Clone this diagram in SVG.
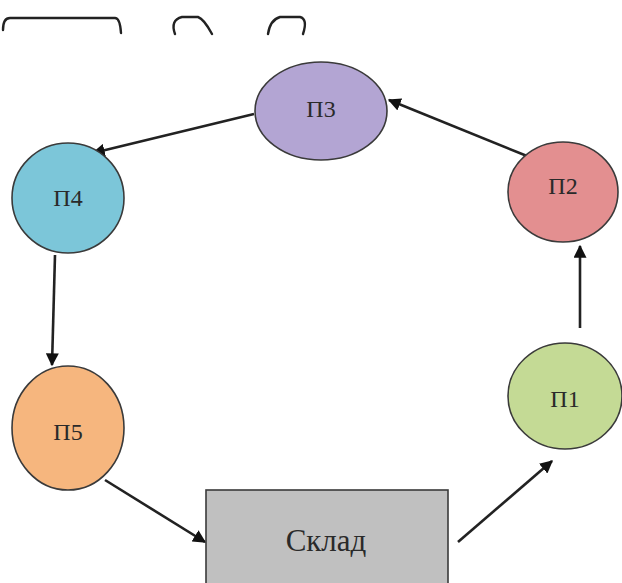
<svg xmlns="http://www.w3.org/2000/svg" width="622" height="583" viewBox="0 0 622 583">
<style>
.node{stroke:#3a3a3a;stroke-width:1.6}
.lbl{font-family:"Liberation Serif","Times New Roman",serif;font-size:24px;fill:#2a2a2a;text-anchor:middle;dominant-baseline:central}
.big{font-size:31px}
.edge{stroke:#222;stroke-width:2.6;fill:none;marker-end:url(#ah)}
.frag{stroke:#222;stroke-width:2.4;fill:none;stroke-linecap:round}
</style>
<defs>
<marker id="ah" viewBox="0 0 10 10" refX="9" refY="5" markerWidth="5" markerHeight="5" orient="auto" markerUnits="strokeWidth">
<path d="M0,0 L10,5 L0,10 z" fill="#111"/>
</marker>
</defs>
<rect width="622" height="583" fill="#fff"/>
<g id="fragments">
<path class="frag" d="M3,30 Q3,18 10,18 L115,18 Q120,18 121,33"/>
<path class="frag" d="M175,34 Q170,20 182,17 L198,17 Q204,19 212,34"/>
<path class="frag" d="M268,34 Q270,20 280,17 L300,17 Q308,19 303,34"/>
</g>
<g id="connectors">
<line class="edge" x1="458" y1="542" x2="552" y2="461"/>
<line class="edge" x1="580" y1="328" x2="580" y2="246"/>
<line class="edge" x1="527" y1="156" x2="389" y2="100"/>
<line class="edge" x1="254" y1="114" x2="93" y2="153"/>
<line class="edge" x1="55" y1="255" x2="52" y2="365"/>
<line class="edge" x1="105" y1="480" x2="205" y2="542"/>
</g>
<g id="P3"><ellipse class="node" cx="321" cy="111" rx="66" ry="49" fill="#b3a5d3"/><text class="lbl" x="321" y="109">П3</text></g>
<g id="P2"><ellipse class="node" cx="563" cy="192" rx="55" ry="50" fill="#e38f90"/><text class="lbl" x="563" y="186">П2</text></g>
<g id="P4"><ellipse class="node" cx="68" cy="198" rx="56" ry="55" fill="#7cc6d9"/><text class="lbl" x="68" y="198">П4</text></g>
<g id="P5"><ellipse class="node" cx="68" cy="428" rx="56" ry="62" fill="#f6b67e"/><text class="lbl" x="68" y="432">П5</text></g>
<g id="P1"><ellipse class="node" cx="565" cy="396" rx="57" ry="53" fill="#c4da95"/><text class="lbl" x="565" y="399">П1</text></g>
<g id="Sklad"><rect class="node" x="206" y="490" width="242" height="100" fill="#c0c0c0"/><text class="lbl big" x="326" y="540">Склад</text></g>
</svg>
